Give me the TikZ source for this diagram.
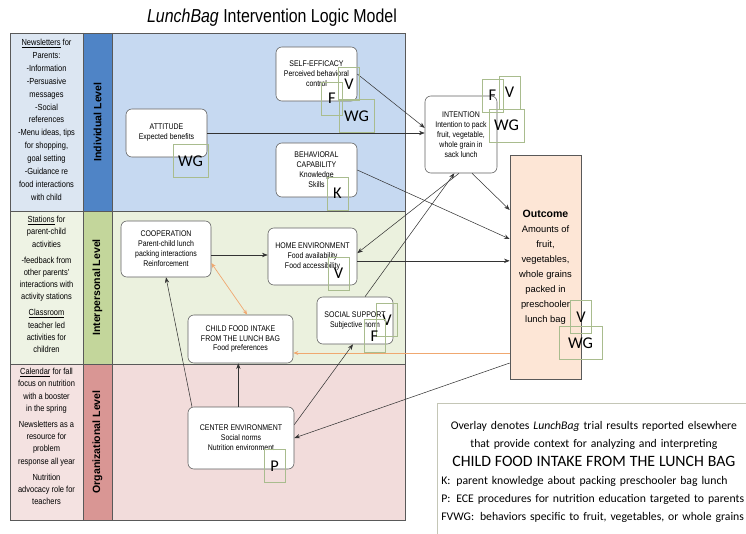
\documentclass[tikz,border=0pt]{standalone}
\usepackage{fontspec}
\setmainfont{Liberation Sans}
\newfontfamily\narrowsf[FakeStretch=0.85]{Liberation Sans}
\newfontfamily\calsf{Carlito}
\usetikzlibrary{arrows.meta,positioning}
\definecolor{indM}{HTML}{C6D9F1}
\definecolor{indL}{HTML}{4F84C6}
\definecolor{indS}{HTML}{DCE6F2}
\definecolor{intM}{HTML}{EBF1DE}
\definecolor{intL}{HTML}{C3D69B}
\definecolor{intS}{HTML}{EEF3E4}
\definecolor{orgM}{HTML}{F2DCDB}
\definecolor{orgL}{HTML}{D99694}
\definecolor{orgS}{HTML}{F4E2E1}
\definecolor{outF}{HTML}{FDE6D6}
\definecolor{ovl}{HTML}{A9BC8E}
\definecolor{orng}{HTML}{F0A870}
\definecolor{lnk}{HTML}{333333}
\definecolor{rule}{HTML}{595959}
\definecolor{legc}{HTML}{C4C6B6}
\tikzset{
  flow/.style={-{Stealth[length=1.7mm,width=1.3mm]}, line width=0.45pt, lnk},
  oflow/.style={-{Stealth[length=1.5mm,width=1.2mm]}, line width=0.6pt, orng},
  factor/.style={draw=gray!75!black, fill=white, rounded corners=5pt, line width=0.5pt,
    align=center, inner sep=1pt, font=\narrowsf\fontsize{7}{8.5}\selectfont},
  ovbox/.style={draw=ovl, line width=0.4pt, inner sep=0pt, minimum height=0.99cm,
    minimum width=0.62cm, font=\calsf\fontsize{14}{14}\selectfont},
  wide/.style={minimum width=1.05cm},
  strat/.style={align=center, anchor=north, inner sep=0pt,
    font=\narrowsf\fontsize{7.5}{10.5}\selectfont},
  level/.style={rotate=90, font=\bfseries\fontsize{9}{10}\selectfont},
}

\begin{document}
\begin{tikzpicture}[x=0.03cm,y=-0.03cm]
\useasboundingbox (0,0) rectangle (746,534);

% ---- level bands -----------------------------------------------------------
\fill[indS] (10,33) rectangle (83,211);
\fill[indL] (83,33) rectangle (112,211);
\fill[indM] (112,33) rectangle (405,211);
\fill[intS] (10,211) rectangle (83,364);
\fill[intL] (83,211) rectangle (112,364);
\fill[intM] (112,211) rectangle (405,364);
\fill[orgS] (10,364) rectangle (83,520);
\fill[orgL] (83,364) rectangle (112,520);
\fill[orgM] (112,364) rectangle (405,520);
\draw[rule, line width=0.6pt] (10,33) rectangle (405,520);
\draw[rule, line width=0.6pt] (10,211) -- (405,211) (10,364) -- (405,364)
  (83,33) -- (83,520) (112,33) -- (112,520);

\node[font=\narrowsf\fontsize{16}{18}\selectfont] (title) at (272,18)
  {\textit{LunchBag} Intervention Logic Model};

% ---- strategies and level names --------------------------------------------
\node[strat, font=\narrowsf\fontsize{7.5}{11}\selectfont] (strI) at (46.5,39)
  {\underline{Newsletters} for\\ Parents:\\ -Information\\
  -Persuasive\\ messages\\ -Social\\ references\\ -Menu ideas, tips\\ for shopping,\\
  goal setting\\ -Guidance re\\ food interactions\\ with child};
\node[strat] (strP) at (46.5,216) {\underline{Stations} for\\ parent-child\\ activities\\[3pt]
  -feedback from\\ other parents'\\ interactions with\\ activity stations\\[3pt]
  \underline{Classroom}\\ teacher led\\ activities for\\ children};
\node[strat] (strO) at (46.5,368) {\underline{Calendar} for fall\\ focus on nutrition\\
  with a booster\\ in the spring\\[3pt] Newsletters as a\\ resource for\\ problem\\
  response all year\\[3pt] Nutrition\\ advocacy role for\\ teachers};
\node[level] (levI) at (97.5,122) {Individual Level};
\node[level] (levP) at (97.5,287.5) {Interpersonal Level};
\node[level] (levO) at (97.5,442) {Organizational Level};

% ---- individual ------------------------------------------------------------
\node[factor, minimum width=2.43cm, minimum height=1.62cm] (self) at (316.5,74)
  {SELF-EFFICACY\\ Perceived behavioral\\ control};
\node[factor, minimum width=2.43cm, minimum height=1.44cm] (att) at (166.5,133)
  {ATTITUDE\\ Expected benefits};
\node[factor, minimum width=2.43cm, minimum height=1.62cm] (beh) at (316.5,170)
  {BEHAVIORAL\\ CAPABILITY\\ Knowledge\\ Skills};
\node[factor, minimum width=2.16cm, minimum height=2.31cm] (int) at (461,134.5)
  {INTENTION\\ Intention to pack\\ fruit, vegetable,\\ whole grain in\\ sack lunch};
% ---- interpersonal ---------------------------------------------------------
\node[factor, minimum width=2.70cm, minimum height=1.68cm] (coop) at (166,249)
  {COOPERATION\\ Parent-child lunch\\ packing interactions\\ Reinforcement};
\node[factor, minimum width=2.67cm, minimum height=1.71cm] (home) at (312.5,256.5)
  {HOME ENVIRONMENT\\ Food availability\\ Food accessibility};
\node[factor, minimum width=3.15cm, minimum height=1.44cm] (cfi) at (240.5,339)
  {CHILD FOOD INTAKE\\ FROM THE LUNCH BAG\\ Food preferences};
\node[factor, minimum width=2.28cm, minimum height=1.41cm] (soc) at (355,320.5)
  {SOCIAL SUPPORT\\ Subjective norm};
% ---- organizational --------------------------------------------------------
\node[factor, minimum width=3.18cm, minimum height=1.86cm] (cen) at (241,438)
  {CENTER ENVIRONMENT\\ Social norms\\ Nutrition environment};
% ---- outcome ---------------------------------------------------------------
\node[draw=gray!70!black, fill=outF, line width=0.5pt, minimum width=2.13cm,
  minimum height=6.72cm, align=center, font=\fontsize{8}{12.8}\selectfont] (out) at (545.5,267)
  {{\fontsize{9}{12.8}\selectfont\bfseries Outcome}\\ Amounts of\\ fruit,\\ vegetables,\\
   whole grains\\ packed in\\ preschooler\\ lunch bag};

% ---- flow ------------------------------------------------------------------
\draw[flow] (self.east) -- ([yshift=0.2cm]int.west);
\draw[flow] (att.east) -- (att.east -| int.west);
\draw[flow] (beh.east) -- ([yshift=0.84cm]out.west);
\draw[flow] ([xshift=0.33cm]int.south) -- ([yshift=1.71cm]out.west);
\draw[flow] ([yshift=-0.13cm]home.east) -- ([yshift=-0.13cm]home.east -| out.west);
\draw[flow] ([xshift=-0.06cm]int.south) -- ([yshift=0.1cm]home.east);
\draw[flow] ([xshift=0.3cm]soc.north) -- ([xshift=-0.2cm]int.south);
\draw[flow] ([yshift=-0.18cm]coop.east) -- ([yshift=-0.18cm]coop.east -| home.west);
\draw[oflow, {Stealth[length=1.5mm,width=1.2mm]}-{Stealth[length=1.5mm,width=1.2mm]}]
  ([yshift=-0.42cm]coop.east) -- ([xshift=0.2cm]cfi.north);
\draw[oflow] ([yshift=-2.58cm]out.west) -- ([yshift=-2.58cm]out.west -| cfi.east);
\draw[flow] ([xshift=-1.47cm]cen.north) -- (coop.south);
\draw[flow] ([xshift=-0.08cm]cen.north) -- ([xshift=-0.08cm]cen.north |- cfi.south);
\draw[flow] ([yshift=0.4cm]cen.east) -- ([xshift=-0.06cm]soc.south);
\draw[flow] ([yshift=-2.88cm]out.west) -- (cen.east);

% ---- overlay ---------------------------------------------------------------
\node[ovbox] (selfV) at (349,84) {V};
\node[ovbox] (selfF) at (332,98.5) {F};
\node[ovbox, wide] (selfWG) at (356.5,116) {WG};
\node[ovbox, wide] (attWG) at (190.5,161) {WG};
\node[ovbox] (behK) at (337.5,193.5) {K};
\node[ovbox] (intF) at (492.5,95.5) {F};
\node[ovbox] (intV) at (509.5,92.5) {V};
\node[ovbox, wide] (intWG) at (506.5,125.5) {WG};
\node[ovbox] (homeV) at (338.5,273.5) {V};
\node[ovbox] (socV) at (387,320) {V};
\node[ovbox] (socF) at (374.5,336) {F};
\node[ovbox] (outV) at (581,317) {V};
\node[ovbox, minimum width=1.29cm] (outWG) at (580.5,343) {WG};
\node[ovbox] (cenP) at (274.5,466) {P};

% ---- legend ----------------------------------------------------------------
\node[draw=legc, line width=0.6pt, anchor=north west, text width=9.15cm, inner xsep=0.12cm,
  inner ysep=0.55cm, font=\calsf\fontsize{10}{15.5}\selectfont] (legend) at (437,403)
  {{\centering Overlay denotes \textit{LunchBag} trial results reported elsewhere\\
    that provide context for analyzing and interpreting\\
    {\fontsize{13.5}{15}\selectfont CHILD FOOD INTAKE FROM THE LUNCH BAG}\par}
   K:\enspace parent knowledge about packing preschooler bag lunch\\
   P:\enspace ECE procedures for nutrition education targeted to parents\\
   FVWG:\enspace behaviors specific to fruit, vegetables, or whole grains};

\end{tikzpicture}
\end{document}
